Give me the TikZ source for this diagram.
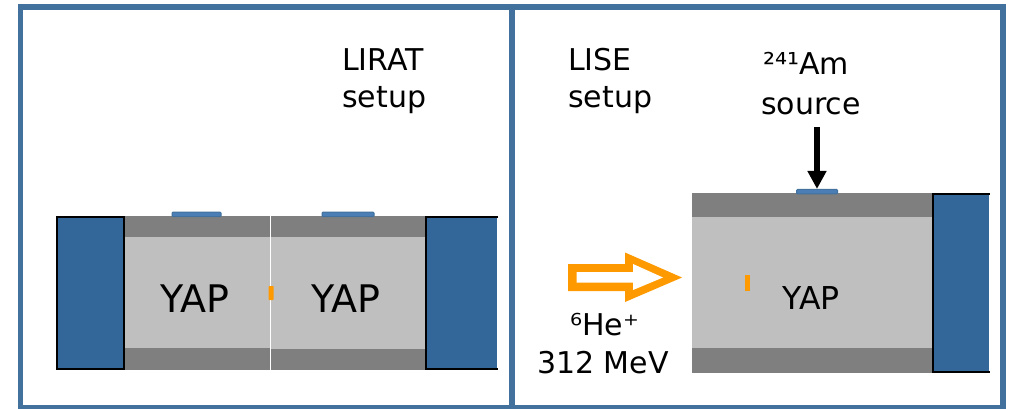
\documentclass[tikz,border=0pt]{standalone}
\usepackage{fontspec}
\setmainfont{DejaVu Sans}
\usetikzlibrary{arrows.meta}
\definecolor{framec}{HTML}{41719C}
\definecolor{pmt}{HTML}{336699}
\definecolor{tabc}{HTML}{4A7EB5}
\definecolor{darkg}{HTML}{7F7F7F}
\definecolor{lightg}{HTML}{BFBFBF}
\definecolor{orangec}{HTML}{FF9900}
\tikzset{
  lbl/.style={inner sep=0pt,anchor=base west,align=left,text=black},
  big/.style={lbl,font=\fontsize{30}{38}\selectfont},
  frameline/.style={draw=framec,line width=5.5pt},
  pmtfill/.style={fill=pmt},
  pmtedge/.style={draw=black,line width=2pt,line cap=rect},
  tabbox/.style={fill=tabc,draw=framec,line width=1pt,rounded corners=1pt},
}
\begin{document}
\begin{tikzpicture}[x=1pt,y=-1pt]
\useasboundingbox (0,0) rectangle (1011,409);
\fill[white] (0,0) rectangle (1011,409);
% frame
\begin{scope}
\clip (0,0) rectangle (1011,409);
\draw[frameline] (20.5,7) rectangle (1003,407.5);
\draw[frameline] (512,7) -- (512,407.5);
\end{scope}
% left setup: scintillators
\fill[darkg] (124,215.5) rectangle (269.8,369.5);
\fill[darkg] (270.8,215.5) rectangle (425,370);
\fill[lightg] (124,236.7) rectangle (269.8,348);
\fill[lightg] (270.8,236.7) rectangle (425,348.5);
\draw[white,line width=1pt] (270.3,215.5) -- (270.3,370);
% left PMTs
\fill[pmtfill] (57,216.5) rectangle (124,369);
\draw[pmtedge] (57,217) rectangle (123.5,368.5);
\fill[pmtfill] (425,216.5) rectangle (497,369);
\draw[pmtedge] (497,217) -- (425.7,217) -- (425.7,368.5) -- (497,368.5);
% left sources
\node[tabbox,minimum width=0pt,inner sep=0pt] (tabA) at (196.5,214.3) {\rule{0pt}{4.5pt}\rule{49pt}{0pt}};
\node[tabbox,inner sep=0pt] (tabB) at (348,214.3) {\rule{0pt}{4.5pt}\rule{52pt}{0pt}};
\fill[orangec,rounded corners=0.7pt] (268.5,286) rectangle (273.5,300);
\node[lbl,font=\fontsize{38}{46}\selectfont] (yapA) at (160,312) {YAP};
\node[lbl,font=\fontsize{38}{46}\selectfont] (yapB) at (311,312) {YAP};
\node[big] (lirat) at (342,71) {LIRAT};
\node[big] (liratb) at (342,108) {setup};
% right setup
\fill[darkg] (692,192.5) rectangle (932,372.7);
\fill[lightg] (692,217.3) rectangle (932,348);
\fill[pmtfill] (932,193.5) rectangle (988.5,372.5);
\draw[pmtedge] (988.5,194.3) -- (932.8,194.3) -- (932.8,371.7) -- (988.5,371.7);
\node[tabbox,inner sep=0pt] (tabC) at (817,191.7) {\rule{0pt}{4.5pt}\rule{41pt}{0pt}};
\fill[orangec] (745,275) rectangle (750,291);
\node[lbl,font=\fontsize{31.5}{38}\selectfont] (yapC) at (782,309) {YAP};
\node[big] (lise) at (568,71) {LISE};
\node[big] (liseb) at (568,108) {setup};
\node[big] (am) at (763,75) {²⁴¹Am};
\node[big] (amb) at (761,114) {source};
\coordinate (srcstart) at (817,127);
\draw[line width=6pt,-{Triangle[length=18pt,width=18pt]}] (srcstart) -- (tabC.north);
% beam arrow
\fill[orangec] (568,264) -- (625,264) -- (625,252.5) -- (682,277.5) -- (625,302) -- (625,291) -- (568,291) -- cycle;
\fill[white] (576.7,272) -- (633,272) -- (633,264) -- (663,277.5) -- (633,290) -- (633,282.7) -- (576.7,282.7) -- cycle;
\node[big] (he) at (570,335) {⁶He⁺};
\node[big] (mev) at (537,373) {312 MeV};
\end{tikzpicture}
\end{document}
